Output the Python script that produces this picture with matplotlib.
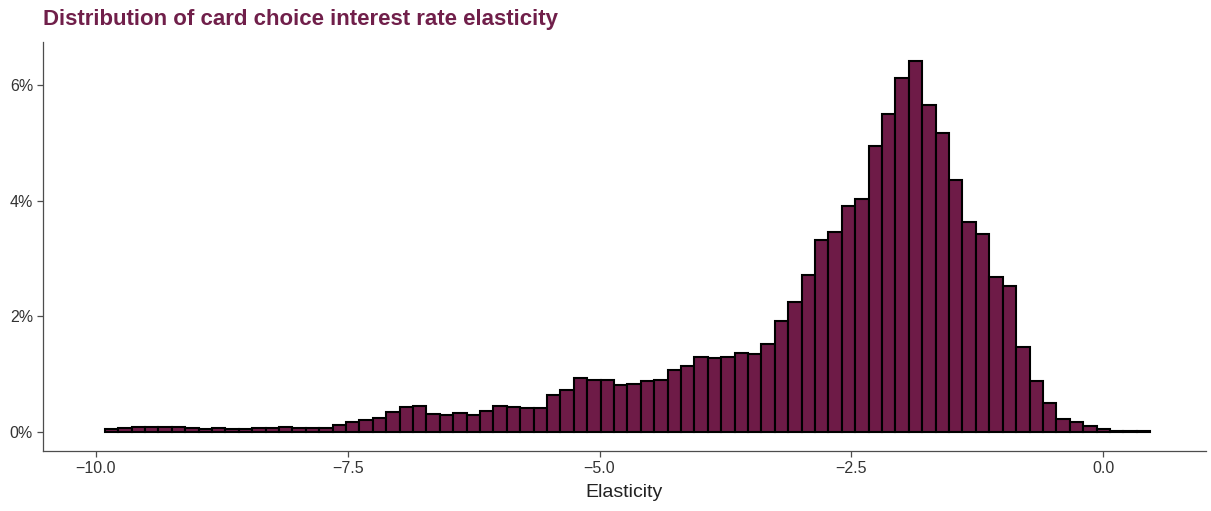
import numpy as np
import matplotlib
matplotlib.use("Agg")
import matplotlib.pyplot as plt
from matplotlib.ticker import FuncFormatter

# histogram bins (share of cards, in %)
bin_start = -9.91
bin_width = 0.133
pct = [0.057, 0.069, 0.092, 0.092, 0.092, 0.092, 0.074, 0.057, 0.069, 0.052,
       0.052, 0.069, 0.069, 0.092, 0.064, 0.064, 0.064, 0.126, 0.168, 0.202,
       0.242, 0.346, 0.438, 0.455, 0.311, 0.299, 0.334, 0.289, 0.369, 0.445,
       0.427, 0.415, 0.415, 0.640, 0.727, 0.939, 0.905, 0.900, 0.813, 0.836,
       0.877, 0.900, 1.073, 1.147, 1.298, 1.285, 1.298, 1.362, 1.344, 1.528,
       1.920, 2.249, 2.711, 3.322, 3.460, 3.910, 4.036, 4.948, 5.497, 6.119,
       6.419, 5.652, 5.168, 4.360, 3.628, 3.426, 2.682, 2.526, 1.471, 0.882,
       0.497, 0.220, 0.178, 0.099, 0.052, 0.022, 0.022, 0.022]

x_ticks = [-10.0, -7.5, -5.0, -2.5, 0.0]
y_ticks = [0, 2, 4, 6]

title = "Distribution of card choice interest rate elasticity"
xlabel = "Elasticity"

fill = "#6E1B47"
axis_col = "#4D4D4D"

plt.rcParams["font.family"] = ["Liberation Sans", "DejaVu Sans"]

lefts = bin_start + bin_width * np.arange(len(pct))

fig = plt.figure(figsize=(12.11, 5.11), dpi=100)
ax = fig.add_axes([0.0353, 0.1174, 0.9606, 0.801])

ax.bar(lefts, pct, width=bin_width, align="edge", color=fill,
       edgecolor="black", linewidth=1.5)

ax.set_xlim(-10.526, 1.019)
ax.set_ylim(-0.329, 6.753)
ax.set_xticks(x_ticks)
ax.set_yticks(y_ticks)
ax.xaxis.set_major_formatter(FuncFormatter(lambda v, p: f"{v:.1f}".replace("-", "\u2212")))
ax.yaxis.set_major_formatter(FuncFormatter(lambda v, p: f"{v:.0f}%"))

for s in ["top", "right"]:
    ax.spines[s].set_visible(False)
for s in ["left", "bottom"]:
    ax.spines[s].set_color(axis_col)
    ax.spines[s].set_linewidth(0.9)

ax.tick_params(axis="both", direction="out", length=4, width=0.9,
               color=axis_col, labelcolor="#333333", labelsize=11.5, pad=3)

ax.set_xlabel(xlabel, fontsize=14, color="#222222", labelpad=6)
fig.text(0.0355, 0.962, title, fontsize=16, fontweight="bold", color="#701F4A",
         ha="left", va="center")

fig.savefig("out.png", dpi=100)
